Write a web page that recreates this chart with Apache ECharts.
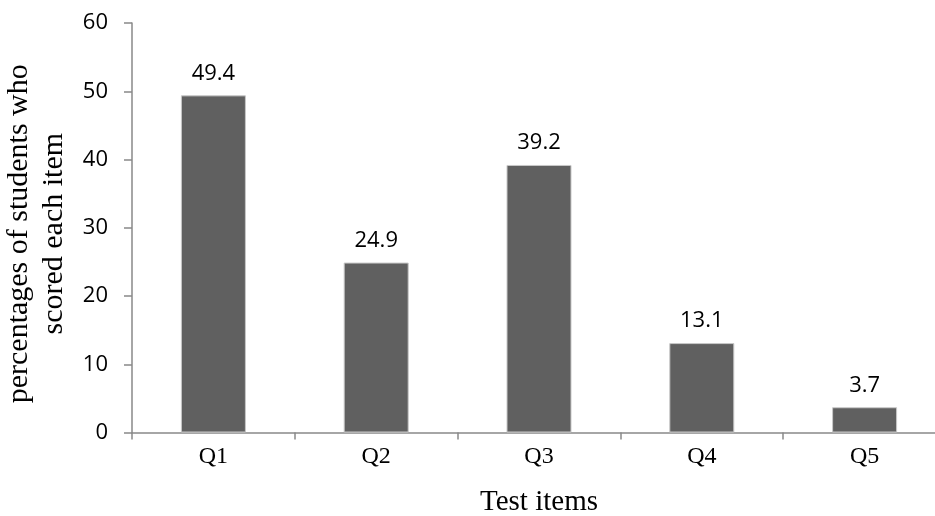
<!DOCTYPE html>
<html>
<head>
<meta charset="utf-8">
<script src="https://cdn.jsdelivr.net/npm/echarts@6/dist/echarts.min.js"></script>
<style>
html,body{margin:0;padding:0;background:#fff;}
#chart{width:935px;height:516px;}
</style>
</head>
<body>
<div id="chart"></div>
<script>
const categories = ['Q1', 'Q2', 'Q3', 'Q4', 'Q5'];
const percentages = [49.4, 24.9, 39.2, 13.1, 3.7];
const yTicks = [0, 10, 20, 30, 40, 50, 60];

const chart = echarts.init(document.getElementById('chart'), null, {renderer: 'canvas'});
chart.setOption({
  animation: false,
  backgroundColor: '#ffffff',
  grid: {left: 132, width: 814, top: 23, height: 409.5, containLabel: false, outerBoundsMode: 'none'},
  xAxis: {
    type: 'category',
    data: categories,
    boundaryGap: true,
    name: 'Test items',
    nameLocation: 'middle',
    nameGap: 55,
    nameTextStyle: {fontFamily: 'Liberation Serif', fontSize: 29, color: '#000'},
    axisLine: {lineStyle: {color: '#898989', width: 1.5}},
    axisTick: {show: true, alignWithLabel: false, length: 7, lineStyle: {color: '#898989', width: 1.5}},
    axisLabel: {fontFamily: 'Liberation Serif', fontSize: 24, color: '#000', margin: 12}
  },
  yAxis: {
    type: 'value',
    min: yTicks[0],
    max: yTicks[yTicks.length - 1],
    interval: 10,
    name: 'percentages of students who\nscored each item',
    nameLocation: 'middle',
    nameGap: 52,
    nameTextStyle: {fontFamily: 'Liberation Serif', fontSize: 30, color: '#000', lineHeight: 35, padding: [0, 12, 0, 0]},
    axisLine: {show: true, lineStyle: {color: '#898989', width: 1.5}},
    axisTick: {show: true, length: 8, lineStyle: {color: '#898989', width: 1.5}},
    axisLabel: {fontFamily: 'Open Sans', fontSize: 22, color: '#000', margin: 24},
    splitLine: {show: false}
  },
  series: [{
    type: 'bar',
    data: percentages,
    barWidth: 65,
    itemStyle: {color: '#606060', borderColor: '#c8c8c8', borderWidth: 1},
    label: {
      show: true,
      position: 'top',
      distance: 11,
      fontFamily: 'Open Sans',
      fontSize: 22,
      color: '#000',
      formatter: p => p.value.toFixed(1)
    }
  }]
});
</script>
</body>
</html>
